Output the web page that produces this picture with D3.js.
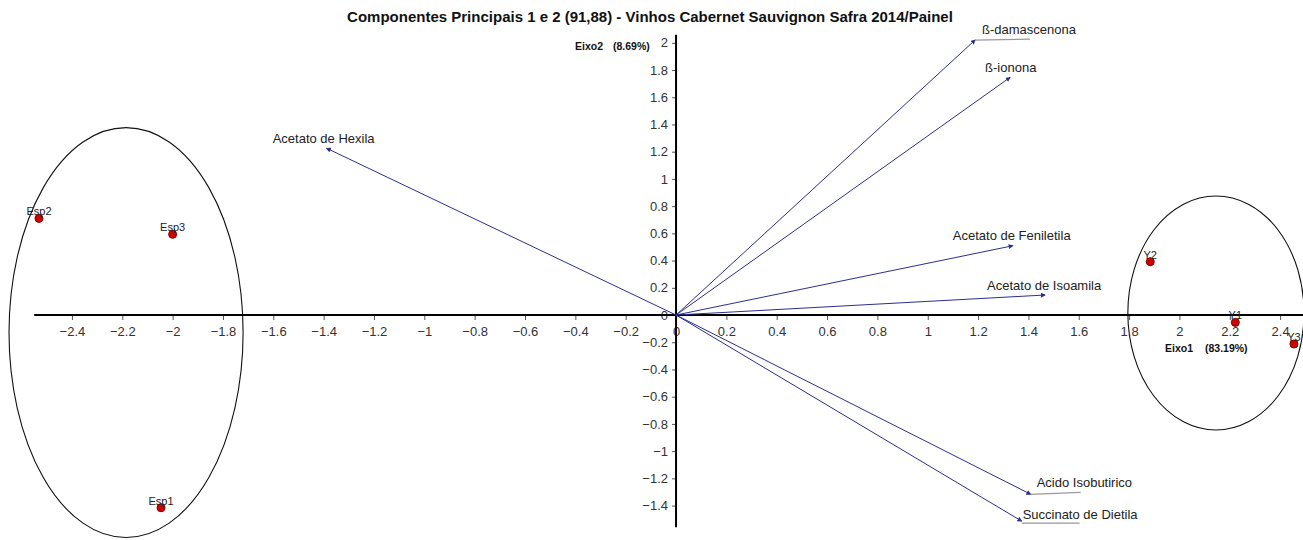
<!DOCTYPE html>
<html>
<head>
<meta charset="utf-8">
<script src="https://cdn.jsdelivr.net/npm/d3@7"></script>
<style>
  html, body { margin: 0; padding: 0; background: #fff; }
  svg { display: block; font-family: "Liberation Sans", Arial, sans-serif; }
</style>
</head>
<body>
<svg id="chart" width="1303" height="540"></svg>
<script>
// Sample scores on the first two principal components
const scoreNames = ["Esp1", "Esp2", "Esp3", "Y1", "Y2", "Y3"];
const scorePC1 = [-2.046, -2.531, -2.000, 2.222, 1.884, 2.455];
const scorePC2 = [-1.416, 0.710, 0.593, -0.054, 0.392, -0.213];

// Variable loadings (vectors from the origin)
const loadingNames = ["ß-damascenona", "ß-ionona", "Acetato de Feniletila", "Acetato de Isoamila",
                      "Acetato de Hexila", "Acido Isobutirico", "Succinato de Dietila"];
const loadingPC1 = [1.188, 1.327, 1.338, 1.466, -1.388, 1.409, 1.373];
const loadingPC2 = [2.020, 1.746, 0.509, 0.147, 1.225, -1.317, -1.514];

// Group ellipses (centre and semi-axes in component units)
const groupCentreX = [-2.185, 2.145];
const groupCentreY = [-0.129, 0.015];
const groupRadiusX = [0.465, 0.350];
const groupRadiusY = [1.506, 0.860];

// Axis ticks
const xTicks = [-2.4, -2.2, -2, -1.8, -1.6, -1.4, -1.2, -1, -0.8, -0.6, -0.4, -0.2, 0,
                0.2, 0.4, 0.6, 0.8, 1, 1.2, 1.4, 1.6, 1.8, 2, 2.2, 2.4];
const yTicks = [-1.4, -1.2, -1, -0.8, -0.6, -0.4, -0.2, 0, 0.2, 0.4, 0.6, 0.8,
                1, 1.2, 1.4, 1.6, 1.8, 2];

const titleText = "Componentes Principais 1 e 2 (91,88) - Vinhos Cabernet Sauvignon Safra 2014/Painel";

// Label placement relative to the vector tips (pixels) and leader underline
const tagLayout = [
  { dx: 7,   dy: -6, line: 55, lineDy: -1 },
  { dx: -25, dy: -5, line: 0,  lineDy: 0 },
  { dx: -60, dy: -6, line: 0,  lineDy: 0 },
  { dx: -58, dy: -5, line: 0,  lineDy: 0 },
  { dx: -54, dy: -5, line: 0,  lineDy: 0 },
  { dx: 6,   dy: -7, line: 50, lineDy: -2 },
  { dx: 1,   dy: -2, line: 58, lineDy: 2 }
];

const svg = d3.select("#chart");
const W = 1303, H = 540;

const x = d3.scaleLinear().domain([-2.6, 2.5]).range([21.6, 1305.3]);
const y = d3.scaleLinear().domain([-1.6, 2.1]).range([532.8, 29.2]);

// Title
svg.append("text")
  .attr("x", 650).attr("y", 22)
  .attr("text-anchor", "middle")
  .attr("font-size", 15).attr("font-weight", "bold")
  .attr("fill", "#111")
  .text(titleText);

// Arrow marker
svg.append("defs").append("marker")
  .attr("id", "tip")
  .attr("viewBox", "0 -3 6 6")
  .attr("refX", 5).attr("refY", 0)
  .attr("markerWidth", 5).attr("markerHeight", 5)
  .attr("markerUnits", "userSpaceOnUse")
  .attr("orient", "auto")
  .append("path").attr("d", "M0,-3L6,0L0,3Z").attr("fill", "#2e2e8f");

// Ellipses
svg.append("g").selectAll("ellipse")
  .data(groupCentreX.map((cx, i) => ({ cx, cy: groupCentreY[i], rx: groupRadiusX[i], ry: groupRadiusY[i] })))
  .join("ellipse")
  .attr("cx", d => x(d.cx)).attr("cy", d => y(d.cy))
  .attr("rx", d => x(d.rx) - x(0)).attr("ry", d => y(0) - y(d.ry))
  .attr("fill", "none").attr("stroke", "#111").attr("stroke-width", 1.1);

// Axes
const axisX = d3.axisBottom(x).tickValues(xTicks).tickSize(5).tickPadding(7)
  .tickFormat(d => d3.format("")(+d.toFixed(1)));
const gx = svg.append("g").attr("transform", `translate(0,${y(0)})`).call(axisX);
gx.select(".domain").remove();
gx.selectAll(".tick line").attr("stroke", "#555");
gx.selectAll(".tick text").attr("font-size", 13).attr("fill", "#333")
  .attr("font-family", "'Liberation Sans', Arial, sans-serif");

const axisY = d3.axisLeft(y).tickValues(yTicks).tickSize(4).tickPadding(4)
  .tickFormat(d => d3.format("")(+d.toFixed(1)));
const gy = svg.append("g").attr("transform", `translate(${x(0)},0)`).call(axisY);
gy.select(".domain").remove();
gy.selectAll(".tick line").attr("stroke", "#555");
gy.selectAll(".tick text").attr("font-size", 13).attr("fill", "#333")
  .attr("font-family", "'Liberation Sans', Arial, sans-serif");

// Axis lines through the origin
svg.append("line")
  .attr("x1", x(-2.55)).attr("x2", W).attr("y1", y(0)).attr("y2", y(0))
  .attr("stroke", "#000").attr("stroke-width", 2);
svg.append("line")
  .attr("x1", x(0)).attr("x2", x(0)).attr("y1", y(2.06)).attr("y2", y(-1.56))
  .attr("stroke", "#000").attr("stroke-width", 2);

// Axis titles
const axisTitle = (tx, ty, a, b, gap) => {
  const g = svg.append("g").attr("font-size", 10.5).attr("font-weight", "bold").attr("fill", "#111")
    .attr("font-family", "Arial, 'Liberation Sans', sans-serif");
  g.append("text").attr("x", tx).attr("y", ty).text(a);
  g.append("text").attr("x", tx + gap).attr("y", ty).text(b);
};
axisTitle(575, 50, "Eixo2", "(8.69%)", 38);
axisTitle(1165, 352, "Eixo1", "(83.19%)", 40);

// Loading vectors
const loadings = loadingNames.map((n, i) => ({ n, px: loadingPC1[i], py: loadingPC2[i], t: tagLayout[i] }));
const vg = svg.append("g");
vg.selectAll("line.vec").data(loadings).join("line").attr("class", "vec")
  .attr("x1", x(0)).attr("y1", y(0))
  .attr("x2", d => x(d.px)).attr("y2", d => y(d.py))
  .attr("stroke", "#2e2e8f").attr("stroke-width", 1)
  .attr("marker-end", "url(#tip)");
vg.selectAll("line.lead").data(loadings.filter(d => d.t.line > 0)).join("line").attr("class", "lead")
  .attr("x1", d => x(d.px)).attr("y1", d => y(d.py) + Math.max(0, d.t.lineDy))
  .attr("x2", d => x(d.px) + d.t.line).attr("y2", d => y(d.py) + d.t.lineDy)
  .attr("stroke", "#999").attr("stroke-width", 1.2);
vg.selectAll("text").data(loadings).join("text")
  .attr("x", d => x(d.px) + d.t.dx).attr("y", d => y(d.py) + d.t.dy)
  .attr("font-size", 13).attr("fill", "#222")
  .text(d => d.n);

// Sample points
const scores = scoreNames.map((n, i) => ({ n, px: scorePC1[i], py: scorePC2[i] }));
const pg = svg.append("g");
pg.selectAll("circle").data(scores).join("circle")
  .attr("cx", d => x(d.px)).attr("cy", d => y(d.py)).attr("r", 4)
  .attr("fill", "#d40000").attr("stroke", "#7a0000").attr("stroke-width", 1);
pg.selectAll("text").data(scores).join("text")
  .attr("x", d => x(d.px)).attr("y", d => y(d.py) - 3)
  .attr("text-anchor", "middle")
  .attr("font-size", 11).attr("fill", "#222")
  .text(d => d.n);
</script>
</body>
</html>
